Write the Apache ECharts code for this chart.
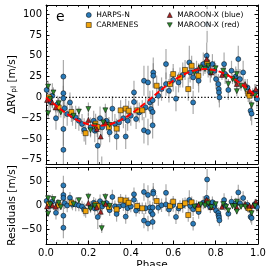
<!DOCTYPE html>
<html><head><meta charset="utf-8">
<script src="https://cdn.jsdelivr.net/npm/echarts@6/dist/echarts.min.js"></script>
<style>html,body{margin:0;padding:0;background:#fff}#c{width:266px;height:266px}</style>
</head><body><div id="c"></div>
<script>
// ---- HARPS-N ----
const harpsPhase = [0.003,0.02,0.03,0.047,0.055,0.082,0.082,0.082,0.082,0.082,
  0.088,0.1,0.113,0.125,0.14,0.155,0.17,0.18,0.21,0.225,
  0.23,0.244,0.255,0.265,0.285,0.3,0.313,0.325,0.333,0.345,
  0.365,0.376,0.385,0.4,0.415,0.415,0.425,0.44,0.462,0.462,
  0.47,0.481,0.481,0.49,0.495,0.503,0.503,0.503,0.506,0.506,
  0.53,0.545,0.566,0.566,0.58,0.6,0.613,0.625,0.645,0.676,
  0.68,0.694,0.694,0.71,0.72,0.742,0.758,0.76,0.765,0.775,
  0.785,0.795,0.802,0.813,0.815,0.816,0.818,0.84,0.845,0.86,
  0.875,0.895,0.907,0.915,0.93,0.95,0.965,0.97,0.985,0.995];
const harpsRV = [9,-5,2,-25,-8,25,5,-1,-38,-63,
  -13,-20,-6,-22,-24,-28,-32,-39,-36,-28,
  -40,-58,-25,-36,-28,-42,-13.5,-32,-47,-30,
  -25,-47,-28,-22,-5.5,6,-26,-18,20,-39.5,
  -12,18,-41.5,-6,-14,-3.5,-17.5,-33.5,30,26,
  2,10,40,16,8,21,-1.5,18,27,42,
  30,24,-6,32,20,40,50,88,36,30,
  40,32,22,16,10,6,0,40,28,9,
  32,25,46,22,30,12,-16,-19.5,6,-2];
const harpsErr = [12,12,15,14,10,20,18,15,20,22,
  12,14,12,12,14,12,12,14,12,12,
  14,25,14,12,12,12,15,12,16,12,
  12,15,12,12,15,14,12,12,18,16,
  12,20,16,14,12,12,14,16,18,15,
  12,14,18,14,14,14,15,12,15,20,
  12,14,14,12,14,14,16,22,12,12,
  12,12,12,12,12,12,12,14,12,12,
  12,12,16,12,14,10,12,14,10,12];
const harpsRes = [9.6,-0.7,8.4,-15.1,3.5,41.8,21.8,15.8,-21.2,-46.2,
  4.9,0,16.2,2,2.2,0.1,-2.2,-8.2,-3.1,5.6,
  -6.3,-24,9,-2.1,5.2,-9.7,17.9,-1.7,-17.5,-1.9,
  0.5,-23.1,-5.5,-2,11.8,23.3,-10.6,-5.5,28.1,-31.4,
  -5.6,22,-37.5,-3.9,-12.9,-4.1,-18.1,-34.1,28.7,24.7,
  -4.4,0.5,26.3,2.3,-8.4,1,-23.7,-6,0.1,11.6,
  -0.8,-7.9,-37.9,-0.9,-13.4,6,16,54,2.2,-3.6,
  6.8,-0.6,-10.2,-15.4,-21.2,-25.1,-30.9,11.3,-0.1,-17.2,
  8,4.2,27.2,4.7,15.5,1.5,-23.4,-25.9,2.8,-3.1];
// ---- CARMENES ----
const carmPhase = [0.014,0.06,0.12,0.187,0.234,0.242,0.297,0.333,0.352,0.376,0.39,0.43,0.454,0.522,0.585,0.6,0.632,0.656,0.671,0.687,0.719,0.76,0.954,0.96];
const carmRV = [0,-12,-17.5,-43,-31.5,-35.5,-35.5,-37.5,-15.5,-13.5,-16,-15.5,-15.5,14,16,28,24,33,10,38,26,42,4.5,2];
const carmErr = [12,12,12,14,12,12,12,12,12,12,12,12,12,12,12,12,12,12,14,12,12,12,10,10];
const carmRes = [3,0.5,5.8,-11.6,2.3,-1.5,-3,-8,11.8,10.4,5.7,-1,-5.8,9.3,-1.3,8,-1.1,4.7,-19.9,6.6,-7.4,8,-5.2,-6.5];
// ---- MAROON-X (blue) ----
const mxbPhase = [0.005,0.03,0.045,0.2,0.24,0.258,0.28,0.72,0.758,0.78,0.83,0.9,0.939,0.96,0.975,0.99];
const mxbRV = [-3,-6,-12,-27,-38,-47,-30,35,46,30,27,16,16,8,5,10];
const mxbErr = [6,6,6,8,6,10,6,6,8,6,6,6,6,6,6,6];
const mxbRes = [-1.9,0.4,-2.5,5.3,-4.1,-13,3.4,1.6,12,-3.4,-2.8,-4,3.3,-0.5,-0.3,7.9];
// ---- MAROON-X (red) ----
const mxrPhase = [0.01,0.01,0.02,0.035,0.06,0.07,0.13,0.155,0.2,0.21,0.23,0.263,0.27,0.28,0.3,0.7,0.73,0.75,0.765,0.78,0.8,0.836,0.85,0.86,0.88,0.892,0.9,0.9,0.92,0.94,0.97,0.986];
const mxrRV = [13,-19,-2,6,-7,-18,-22,-17,-14,-39.5,-34,-81,-30,-15.5,-33,30,36,34,38,30,35,32,25,16,22,20,28,7.5,14,10,-9.5,2.4];
const mxrErr = [7,7,6,6,6,6,6,6,8,7,6,10,6,8,6,6,6,6,6,6,6,6,6,6,6,6,6,6,6,6,6,6];
const mxrRes = [15.1,-16.9,2.3,13.4,5.5,-3.5,2.8,11.1,18.3,-6.6,-0.3,-47.1,3.7,17.9,-0.7,-2.3,2.3,0,4.2,-3.4,2.7,2.9,-2.5,-10.2,-1.3,-1.3,8,-12.5,-2.4,-2.5,-15.9,-0.6];
// ---- Keplerian model ----
const modelPhase = [0,0.025,0.05,0.075,0.1,0.125,0.15,0.175,0.2,0.225,0.25,0.275,0.3,0.325,0.35,0.375,0.4,0.425,0.45,0.475,0.5,
  0.525,0.55,0.575,0.6,0.625,0.65,0.675,0.7,0.725,0.75,0.775,0.8,0.825,0.85,0.875,0.9,0.925,0.95,0.975,1];
const modelRV = [0,-5.3,-10.5,-15.4,-20,-24,-27.5,-30.3,-32.3,-33.6,-34,-33.6,-32.3,-30.3,-27.5,-24,-20,-15.4,-10.5,-5.3,0,
  5.3,10.5,15.4,20,24,27.5,30.3,32.3,33.6,34,33.6,32.3,30.3,27.5,24,20,15.4,10.5,5.3,0];
// ---- tick labels ----
const xTickLabels = ['0.0','0.2','0.4','0.6','0.8','1.0'];
const yTopTicks = [-75,-50,-25,0,25,50,75,100];
const yResTicks = [-50,0,50];

const F = 'DejaVu Sans';
const COL = {harps:'#2a7ab8', carm:'#f0a30a', mxb:'#a82424', mxr:'#2e8b2e'};
const TRI_DOWN = 'path://M0,0L10,0L5,9Z';
function minus(v){ return String(v).replace('-', '\u2212'); }
function zip(ph, v){ return ph.map((p,i)=>[p, v[i]]); }
function errData(ph, v, e){ return ph.map((p,i)=>[p, v[i]-e[i], v[i]+e[i]]); }
function errSeries(data, xi, yi){
  return {type:'custom', xAxisIndex:xi, yAxisIndex:yi, clip:true, z:1, silent:true,
    encode:{x:0, y:[1,2]}, data:data,
    renderItem:function(params, api){
      const x = api.value(0);
      const a = api.coord([x, api.value(1)]);
      const b = api.coord([x, api.value(2)]);
      return {type:'line', shape:{x1:a[0], y1:a[1], x2:b[0], y2:b[1]},
        style:{stroke:'rgba(115,115,115,0.6)', lineWidth:1.2}};
    }};
}
function scat(name, data, xi, yi, sym, color, size){
  return {type:'scatter', name:name, xAxisIndex:xi, yAxisIndex:yi, data:data, symbol:sym,
    symbolSize:size, clip:true, silent:true, z:3,
    itemStyle:{color:color, borderColor:'#000', borderWidth:0.5, opacity:1}};
}
function xAx(grid, pos, labels, name){
  return {type:'value', gridIndex:grid, position:pos, min:0, max:1, interval:0.2,
    axisLine:{show:true, onZero:false, lineStyle:{color:'#000', width:1}},
    axisTick:{show:true, inside:true, length:3.5, lineStyle:{color:'#000', width:1}},
    minorTick:{show:true, splitNumber:4, length:2, lineStyle:{color:'#000', width:0.8}},
    splitLine:{show:false}, minorSplitLine:{show:false},
    axisLabel:{show:labels, color:'#000', fontSize:10, fontFamily:F, margin:4,
      formatter:function(v){ return xTickLabels[Math.round(v/0.2)] || ''; }},
    name:name||'', nameLocation:'middle', nameGap:16, nameMoveOverlap:false,
    nameTextStyle:{color:'#000', fontSize:10.5, fontFamily:F}};
}
function yMaj(grid, pos, min, max, step, ticks, labels, name, gap){
  return {type:'value', gridIndex:grid, position:pos, min:min, max:max, minInterval:step, maxInterval:step,
    axisLine:{show:true, onZero:false, lineStyle:{color:'#000', width:1}},
    axisTick:{show:true, inside:true, length:3.5, lineStyle:{color:'#000', width:1}},
    splitLine:{show:false},
    axisLabel:{show:labels, color:'#000', fontSize:10, fontFamily:F, margin:4,
      showMinLabel:false, showMaxLabel:false,
      formatter:function(v){ return ticks.indexOf(v) >= 0 ? minus(v) : ''; }},
    name:name||'', nameLocation:'middle', nameGap:gap||0, nameRotate:90, nameMoveOverlap:false,
    nameTextStyle:{color:'#000', fontSize:10.5, fontFamily:F,
      rich:{n:{fontSize:10.5, fontFamily:F, color:'#000'},
            s:{fontSize:7.5, fontFamily:F, color:'#000', verticalAlign:'bottom', padding:[4,0,0,0]}}}};
}
function yMin(grid, pos, min, max, step){
  return {type:'value', gridIndex:grid, position:pos, min:min, max:max, interval:step,
    axisLine:{show:false, onZero:false}, axisLabel:{show:false}, splitLine:{show:false},
    axisTick:{show:true, inside:true, length:2, lineStyle:{color:'#000', width:0.8}}};
}

const series = [
  errSeries(errData(harpsPhase, harpsRV, harpsErr), 0, 0),
  errSeries(errData(carmPhase, carmRV, carmErr), 0, 0),
  errSeries(errData(mxbPhase, mxbRV, mxbErr), 0, 0),
  errSeries(errData(mxrPhase, mxrRV, mxrErr), 0, 0),
  {type:'line', xAxisIndex:0, yAxisIndex:0, data:[[0,0],[1,0]], symbol:'none', silent:true, z:2,
    lineStyle:{color:'#000', width:1.3, type:[1.3,2]}},
  scat('HARPS-N', zip(harpsPhase, harpsRV), 0, 0, 'circle', COL.harps, 5),
  scat('CARMENES', zip(carmPhase, carmRV), 0, 0, 'rect', COL.carm, 5),
  scat('MAROON-X (blue)', zip(mxbPhase, mxbRV), 0, 0, 'triangle', COL.mxb, 5),
  scat('MAROON-X (red)', zip(mxrPhase, mxrRV), 0, 0, TRI_DOWN, COL.mxr, 5),
  {type:'line', xAxisIndex:0, yAxisIndex:0, data:zip(modelPhase, modelRV), symbol:'none', smooth:true,
    silent:true, z:5, lineStyle:{color:'#ff0000', width:2, type:[6,3]}},
  errSeries(errData(harpsPhase, harpsRes, harpsErr), 2, 4),
  errSeries(errData(carmPhase, carmRes, carmErr), 2, 4),
  errSeries(errData(mxbPhase, mxbRes, mxbErr), 2, 4),
  errSeries(errData(mxrPhase, mxrRes, mxrErr), 2, 4),
  scat('HARPS-N res', zip(harpsPhase, harpsRes), 2, 4, 'circle', COL.harps, 5),
  scat('CARMENES res', zip(carmPhase, carmRes), 2, 4, 'rect', COL.carm, 5),
  scat('MAROON-X (blue) res', zip(mxbPhase, mxbRes), 2, 4, 'triangle', COL.mxb, 5),
  scat('MAROON-X (red) res', zip(mxrPhase, mxrRes), 2, 4, TRI_DOWN, COL.mxr, 5)
];

const legendBase = {orient:'vertical', top:9, itemWidth:5, itemHeight:5, itemGap:2, padding:[2,4],
  backgroundColor:'rgba(255,255,255,0.8)', selectedMode:false,
  itemStyle:{borderColor:'#000', borderWidth:0.5},
  textStyle:{fontSize:7.5, fontFamily:F, color:'#000'}};

const option = {
  animation:false,
  backgroundColor:'#fff',
  textStyle:{fontFamily:F},
  grid:[
    {left:46, top:5, width:212, height:159, outerBoundsMode:'none'},
    {left:46, top:167, width:212, height:77, outerBoundsMode:'none'}
  ],
  xAxis:[
    xAx(0,'bottom',false), xAx(0,'top',false),
    xAx(1,'bottom',true,'Phase'), xAx(1,'top',false)
  ],
  yAxis:[
    yMaj(0,'left',-80,111,25,yTopTicks,true,'{n|\u0394RV}{s|pl}{n| [m/s]}',28),
    yMin(0,'left',-80,111,5),
    yMaj(0,'right',-80,111,25,yTopTicks,false),
    yMin(0,'right',-80,111,5),
    yMaj(1,'left',-80,80,50,yResTicks,true,'Residuals [m/s]',28),
    yMin(1,'left',-80,80,10),
    yMaj(1,'right',-80,80,50,yResTicks,false),
    yMin(1,'right',-80,80,10)
  ],
  legend:[
    Object.assign({}, legendBase, {left:82, data:['HARPS-N','CARMENES']}),
    Object.assign({}, legendBase, {left:163, data:['MAROON-X (blue)', {name:'MAROON-X (red)', icon:TRI_DOWN}]})
  ],
  graphic:[{type:'text', left:56, top:10, style:{text:'e', font:'14px "DejaVu Sans"', fill:'#000'}}],
  series:series
};
const chart = echarts.init(document.getElementById('c'), null, {renderer:'canvas'});
chart.setOption(option);
</script></body></html>
